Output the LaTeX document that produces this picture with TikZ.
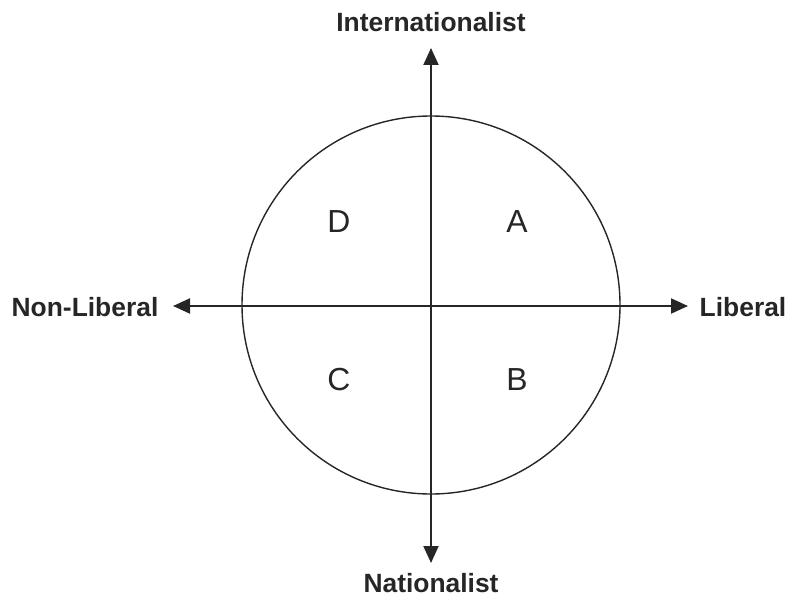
\documentclass[tikz,border=0pt]{standalone}
\usepackage{fontspec}
\setmainfont{Liberation Sans}
\usetikzlibrary{arrows.meta}

\begin{document}
\begin{tikzpicture}[x=1bp,y=-1bp,
  axis/.style={line width=2bp,{Triangle[length=17bp,width=15bp]}-{Triangle[length=17bp,width=15bp]}},
  axislabel/.style={font=\fontsize{26.5}{29}\selectfont\bfseries,text=black!85},
  quadrant/.style={font=\fontsize{32}{34}\selectfont,text=black!85}]
  \useasboundingbox (0,0) rectangle (785,598);
  \coordinate (O) at (431,305);
  \draw[line width=1.4bp,black!85] (O) circle[radius=189];
  \coordinate (top) at (431,48);
  \coordinate (bot) at (431,563);
  \coordinate (lft) at (173,306);
  \coordinate (rgt) at (688,306);
  \draw[axis,black!85] (bot) -- (top);
  \draw[axis,black!85] (lft) -- (rgt);
  \node[axislabel] (intl) at (431,22) {Internationalist};
  \node[axislabel] (natl) at (431,583) {Nationalist};
  \node[axislabel] (nonlib) at (85,307) {Non-Liberal};
  \node[axislabel] (lib) at (743,307) {Liberal};
  \node[quadrant] (qD) at (339,222) {D};
  \node[quadrant] (qA) at (517,222) {A};
  \node[quadrant] (qC) at (339,380) {C};
  \node[quadrant] (qB) at (517,380) {B};
\end{tikzpicture}
\end{document}
